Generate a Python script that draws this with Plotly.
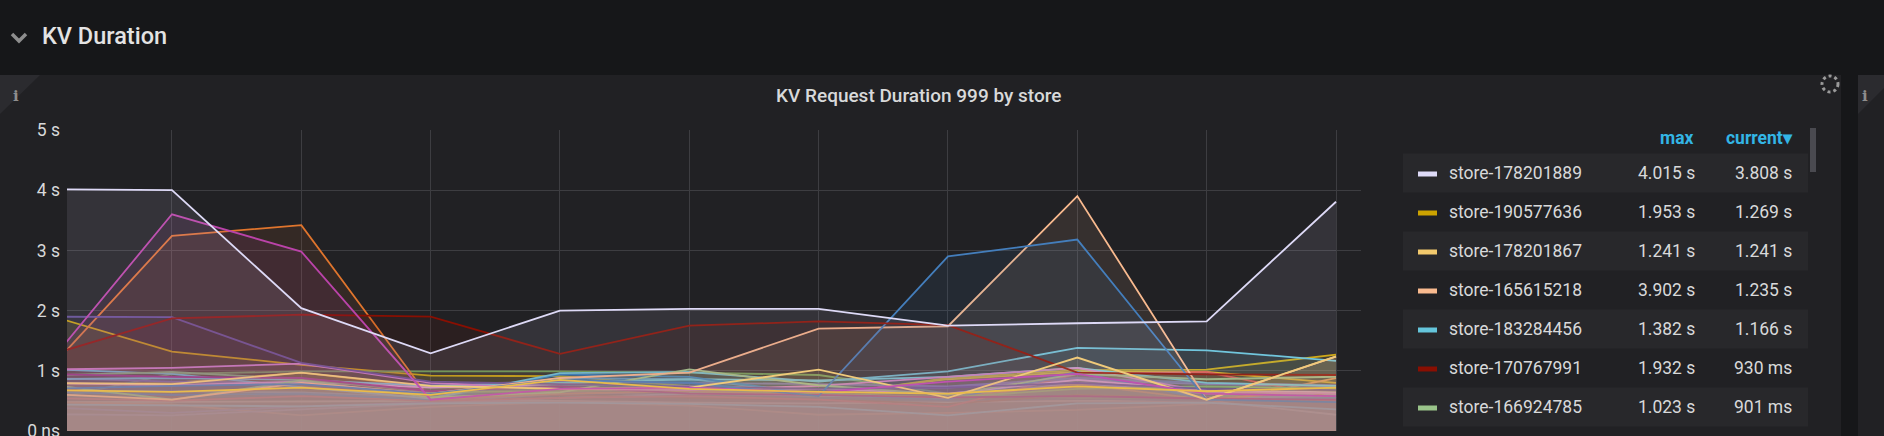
import plotly.graph_objects as go

# sample times (first one sits just left of the visible range)
times = [
    "2019-06-20 10:00:00", "2019-06-20 10:01:00", "2019-06-20 10:02:00",
    "2019-06-20 10:03:00", "2019-06-20 10:04:00", "2019-06-20 10:05:00",
    "2019-06-20 10:06:00", "2019-06-20 10:07:00", "2019-06-20 10:08:00",
    "2019-06-20 10:09:00", "2019-06-20 10:10:00",
]
time_range = ["2019-06-20 10:00:11.3", "2019-06-20 10:10:11.6"]

y_ticks = [0, 1, 2, 3, 4, 5]
y_tick_labels = ["0 ns", "1 s", "2 s", "3 s", "4 s", "5 s"]

# p999 request duration per store, seconds
store_178201889 = [4.015, 4.00, 2.04, 1.29, 2.00, 2.03, 2.03, 1.75, 1.79, 1.82, 3.808]
store_190577636 = [1.953, 1.32, 1.10, 0.92, 0.91, 0.75, 0.58, 0.88, 1.01, 1.02, 1.269]
store_178201867 = [0.80, 0.78, 0.97, 0.75, 0.70, 0.72, 1.02, 0.55, 1.22, 0.52, 1.241]
store_165615218 = [0.62, 0.52, 0.80, 0.62, 0.88, 0.97, 1.70, 1.74, 3.902, 0.52, 1.235]
store_183284456 = [1.03, 0.95, 0.73, 0.54, 0.96, 0.98, 0.82, 0.99, 1.382, 1.34, 1.166]
store_170767991 = [1.23, 1.87, 1.932, 1.90, 1.28, 1.75, 1.82, 1.76, 0.97, 0.94, 0.930]
store_166924785 = [0.78, 0.52, 0.84, 0.56, 0.64, 1.023, 0.76, 0.60, 0.95, 0.86, 0.901]

main_names = ["store-178201889", "store-190577636", "store-178201867", "store-165615218",
              "store-183284456", "store-170767991", "store-166924785"]
main_colors = ["#DEDAF7", "#CCA300", "#F2C96D", "#F9BA8F", "#65C5DB", "#890F02", "#9AC48A"]
main_values = [store_178201889, store_190577636, store_178201867, store_165615218,
               store_183284456, store_170767991, store_166924785]

# the rest of the stores (below the legend scroll)
other_names = [
    "store-190577642", "store-165615224", "store-183284462", "store-166924791",
    "store-170767997", "store-178201873", "store-190577648", "store-165615230",
    "store-183284468", "store-166924797", "store-170768003", "store-178201879",
    "store-190577654", "store-165615236", "store-183284474", "store-166924803",
    "store-170768009", "store-178201885", "store-190577660", "store-165615242",
    "store-183284480", "store-166924809", "store-170768015", "store-178201895",
]
other_colors = [
    "#EF843C", "#EAB839", "#E5AC0E", "#F9934E", "#FCEACA", "#99440A", "#E0752D",
    "#7EB26D", "#629E51", "#E24D42", "#6ED0E0", "#0A437C", "#5195CE", "#705DA0",
    "#E5A8E2", "#AEA2E0", "#806EB7", "#1F78C1", "#70DBED", "#D683CE", "#447EBC",
    "#962D82", "#614D93", "#BA43A9",
]
other_values = [
    [0.0, 0.0, 0.0, 0.0, 0.0, 0.0, 0.0, 0.0, 0.0, 0.0, 0.0],
    [0.68, 0.65, 0.72, 0.60, 0.85, 0.70, 0.65, 0.62, 0.74, 0.66, 0.72],
    [0.78, 0.80, 0.97, 0.73, 0.70, 0.66, 0.60, 0.86, 0.98, 0.98, 0.80],
    [0.48, 0.44, 0.26, 0.40, 0.48, 0.42, 0.27, 0.30, 0.35, 0.45, 0.88],
    [0.48, 0.48, 0.49, 0.50, 0.50, 0.47, 0.46, 0.48, 0.50, 0.50, 0.27],
    [0.72, 0.56, 0.74, 0.55, 0.60, 0.55, 0.52, 0.45, 0.60, 0.55, 0.50],
    [0.91, 3.24, 3.42, 0.52, 0.62, 0.66, 0.60, 0.55, 0.78, 0.52, 0.70],
    [0.92, 0.98, 0.86, 0.65, 0.66, 0.70, 0.62, 0.56, 0.70, 0.74, 0.70],
    [0.50, 0.95, 0.99, 0.99, 0.99, 0.97, 0.93, 0.62, 0.55, 0.56, 0.72],
    [0.55, 0.50, 0.58, 0.50, 0.55, 0.58, 0.52, 0.40, 0.95, 0.98, 0.55],
    [0.86, 0.88, 0.85, 0.75, 0.80, 0.86, 0.84, 0.90, 1.05, 0.80, 0.75],
    [0.60, 0.55, 0.60, 0.50, 0.88, 0.83, 0.55, 0.50, 0.54, 0.50, 0.52],
    [0.68, 0.66, 0.64, 0.56, 0.88, 0.86, 0.62, 0.54, 0.96, 0.55, 0.58],
    [0.88, 0.82, 0.80, 0.78, 0.82, 0.80, 0.78, 0.74, 0.88, 0.80, 0.76],
    [0.80, 0.76, 0.82, 0.72, 0.78, 0.74, 0.70, 0.62, 0.85, 0.68, 0.64],
    [0.28, 0.26, 0.36, 0.45, 0.55, 0.62, 0.58, 0.55, 0.80, 0.62, 0.60],
    [0.40, 0.30, 0.41, 0.48, 0.62, 0.65, 0.70, 0.72, 0.85, 0.78, 0.74],
    [0.65, 0.60, 0.62, 0.52, 0.94, 0.90, 0.60, 0.52, 0.98, 0.52, 0.55],
    [0.44, 0.42, 0.41, 0.46, 0.47, 0.45, 0.40, 0.26, 0.46, 0.47, 0.36],
    [1.02, 1.05, 1.12, 0.80, 0.70, 0.68, 0.75, 0.90, 1.05, 0.65, 0.62],
    [0.70, 0.75, 0.78, 0.62, 0.85, 0.80, 0.58, 2.90, 3.18, 0.52, 0.48],
    [0.95, 0.90, 0.88, 0.66, 0.74, 0.62, 0.60, 0.56, 0.58, 0.54, 0.52],
    [1.90, 1.89, 1.13, 0.82, 0.78, 0.74, 0.70, 0.72, 0.80, 0.70, 0.68],
    [1.00, 3.60, 2.98, 0.52, 0.70, 0.72, 0.64, 0.82, 0.95, 0.62, 0.58],
]

# order the series are drawn in (last one on top)
draw_order = [
    "store-190577642", "store-183284462", "store-170767997", "store-178201879",
    "store-166924791", "store-166924803", "store-190577636", "store-190577654",
    "store-178201873", "store-170768009", "store-183284468", "store-166924797",
    "store-190577660", "store-165615236", "store-190577648", "store-170768003",
    "store-178201885", "store-183284456", "store-183284474", "store-165615230",
    "store-166924809", "store-165615242", "store-166924785", "store-170768015",
    "store-165615218", "store-183284480", "store-170767991", "store-178201867",
    "store-178201895", "store-165615224", "store-178201889",
]

# pixel geometry of the screenshot
W, H = 1884, 436
PL, PR, PT, PB = 67, 1361, 130, 431


def px(x):
    return (x - PL) / (PR - PL)


def py(y):
    return (PB - y) / (PB - PT)


def rgba(hex_color, alpha):
    h = hex_color.lstrip("#")
    r, g, b = int(h[0:2], 16), int(h[2:4], 16), int(h[4:6], 16)
    return f"rgba({r},{g},{b},{alpha})"


def fmt(v):
    if v >= 1:
        return f"{v:.3f} s"
    if v == 0:
        return "0 ns"
    return f"{round(v * 1000)} ms"


all_names = main_names + other_names
all_colors = main_colors + other_colors
all_values = main_values + other_values
lookup = {n: (c, v) for n, c, v in zip(all_names, all_colors, all_values)}

fig = go.Figure()
for name in draw_order:
    color, vals = lookup[name]
    fig.add_trace(go.Scatter(
        x=times, y=vals, name=name, mode="lines",
        line=dict(color=color, width=1.8),
        fill="tozeroy", fillcolor=rgba(color, 0.1),
        showlegend=False,
    ))

TEXT = "#d8d9da"
BLUE = "#33b5e5"
P = dict(xref="paper", yref="paper")

shapes = [
    dict(type="rect", x0=px(0), x1=px(W), y0=py(0), y1=py(75),
         fillcolor="#161719", line=dict(width=0), layer="below", **P),
    dict(type="rect", x0=px(1841), x1=px(1858), y0=py(75), y1=py(H),
         fillcolor="#161719", line=dict(width=0), layer="below", **P),
    dict(type="path", layer="below", line=dict(width=0), fillcolor="#2b2b2f",
         path=f"M {px(0)},{py(75)} L {px(40)},{py(75)} L {px(0)},{py(114)} Z", **P),
    dict(type="path", layer="below", line=dict(width=0), fillcolor="#2b2b2f",
         path=f"M {px(1858)},{py(75)} L {px(1884)},{py(75)} L {px(1884)},{py(88)} L {px(1858)},{py(114)} Z", **P),
    dict(type="path", line=dict(color="#8e8e8e", width=3.5),
         path=f"M {px(12)},{py(34)} L {px(19)},{py(41)} L {px(26)},{py(34)}", **P),
    dict(type="circle", x0=px(1822), x1=px(1838), y0=py(76), y1=py(92),
         line=dict(color="#9a9a9a", width=3, dash="dot"), **P),
    dict(type="rect", x0=px(1810), x1=px(1816), y0=py(128), y1=py(172),
         fillcolor="#4a4a50", line=dict(width=0), **P),
]
annotations = [
    dict(x=px(40), y=py(36), text="KV Duration", showarrow=False,
         xanchor="left", yanchor="middle",
         font=dict(family="Roboto", size=23.5, color="#e3e3e3", weight=500), **P),
    dict(x=px(918), y=py(95), text="KV Request Duration 999 by store", showarrow=False,
         xanchor="center", yanchor="middle",
         font=dict(family="Roboto", size=19, color=TEXT, weight=500), **P),
    dict(x=px(11), y=py(85), text="<b>i</b>", showarrow=False,
         font=dict(family="DejaVu Serif", size=15, color="#8e8e8e"), **P),
    dict(x=px(1870), y=py(85), text="<b>i</b>", showarrow=False,
         font=dict(family="DejaVu Serif", size=15, color="#8e8e8e"), **P),
    dict(x=px(1696), y=py(138), text="max", showarrow=False,
         xanchor="right", yanchor="middle",
         font=dict(family="Roboto", size=17.5, color=BLUE, weight=700), **P),
    dict(x=px(1795), y=py(138), text="current▾", showarrow=False,
         xanchor="right", yanchor="middle",
         font=dict(family="Roboto", size=17.5, color=BLUE, weight=700), **P),
]

# legend table, sorted by current value
order = sorted(range(len(all_names)), key=lambda i: all_values[i][-1], reverse=True)[:7]
for row, i in enumerate(order):
    cy = 173 + 39 * row
    if row % 2 == 0:
        shapes.append(dict(type="rect", x0=px(1403), x1=px(1808),
                           y0=py(cy - 19.5), y1=py(cy + 19.5),
                           fillcolor="#28282b", line=dict(width=0), layer="below", **P))
    shapes.append(dict(type="rect", x0=px(1418), x1=px(1437),
                       y0=py(cy - 1.5), y1=py(cy + 3.5),
                       fillcolor=all_colors[i], line=dict(width=0), **P))
    annotations += [
        dict(x=px(1447), y=py(cy), text=all_names[i], showarrow=False,
             xanchor="left", yanchor="middle",
             font=dict(family="Roboto", size=17.5, color=TEXT), **P),
        dict(x=px(1697), y=py(cy), text=fmt(max(all_values[i])), showarrow=False,
             xanchor="right", yanchor="middle",
             font=dict(family="Roboto", size=17.5, color=TEXT), **P),
        dict(x=px(1794), y=py(cy), text=fmt(all_values[i][-1]), showarrow=False,
             xanchor="right", yanchor="middle",
             font=dict(family="Roboto", size=17.5, color=TEXT), **P),
    ]

fig.update_layout(
    width=W, height=H,
    margin=dict(l=PL, r=W - PR, t=PT, b=H - PB),
    paper_bgcolor="#212124", plot_bgcolor="#212124",
    shapes=shapes, annotations=annotations,
    font=dict(family="Roboto", color=TEXT),
    xaxis=dict(type="date", range=time_range, dtick=60000,
               tick0="2019-06-20 10:00:00", showticklabels=False,
               showgrid=True, gridcolor="#3d3d41", gridwidth=1,
               zeroline=False, showline=False, ticks="", automargin=False),
    yaxis=dict(range=[0, 5], tickvals=y_ticks, ticktext=y_tick_labels,
               showgrid=True, gridcolor="#3d3d41", gridwidth=1,
               zeroline=False, showline=False, ticks="", automargin=False,
               ticklabelstandoff=6, ticklabeloverflow="allow",
               tickfont=dict(family="Roboto", size=17.5, color=TEXT)),
)

fig.write_html(
    "out.html", config={"displayModeBar": False},
    post_script="document.body.style.margin='0px';"
                "document.body.style.overflow='hidden';"
                "var d=document.getElementById('{plot_id}');"
                "d.style.overflow='hidden';d.style.height='436px';",
)
